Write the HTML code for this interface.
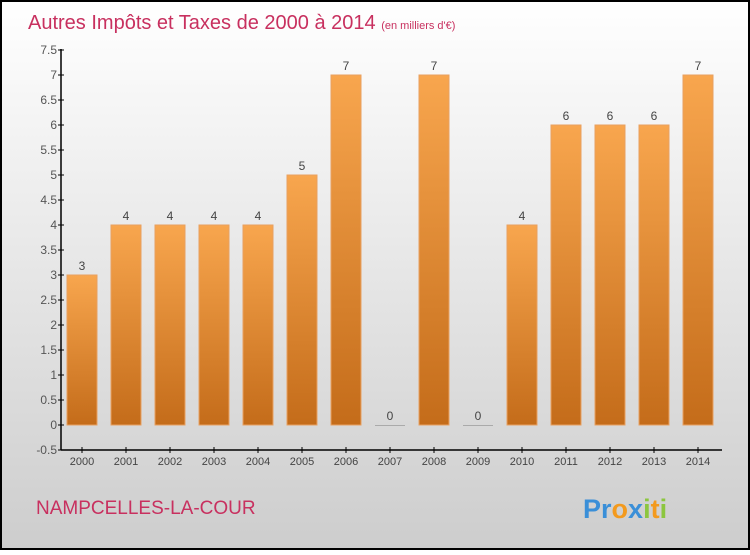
<!DOCTYPE html>
<html><head><meta charset="utf-8"><style>
body{margin:0;width:750px;height:550px;overflow:hidden}
svg text{font-family:"Liberation Sans",sans-serif}
</style></head><body>
<svg width="750" height="550" xmlns="http://www.w3.org/2000/svg">
<defs>
<linearGradient id="bg" x1="0" y1="0" x2="0" y2="1"><stop offset="0" stop-color="#ffffff"/><stop offset="1" stop-color="#cdcdcd"/></linearGradient>
<linearGradient id="bar" x1="0" y1="0" x2="0" y2="1"><stop offset="0" stop-color="#f8a64e"/><stop offset="1" stop-color="#c46c1a"/></linearGradient>
</defs>
<rect x="1" y="1" width="748" height="548" fill="url(#bg)" stroke="#000" stroke-width="2"/>
<text x="28" y="29" font-size="20" fill="#c8305f">Autres Impôts et Taxes de 2000 à 2014 <tspan font-size="11">(en milliers d'€)</tspan></text>
<g id="plot"></g>
<text x="36" y="514" font-size="19" fill="#c8305f">NAMPCELLES-LA-COUR</text>
<text x="583" y="518" font-size="27" font-weight="bold"><tspan fill="#3a8fd8">Pr</tspan><tspan fill="#f39a1e">o</tspan><tspan fill="#3a8fd8">x</tspan><tspan fill="#8cc63f">i</tspan><tspan fill="#f39a1e">t</tspan><tspan fill="#8cc63f">i</tspan></text>
</svg>
<script>
const years=["2000","2001","2002","2003","2004","2005","2006","2007","2008","2009","2010","2011","2012","2013","2014"];
const values=[3,4,4,4,4,5,7,0,7,0,4,6,6,6,7];
const ticks=[-0.5,0,0.5,1,1.5,2,2.5,3,3.5,4,4.5,5,5.5,6,6.5,7,7.5];
const NS="http://www.w3.org/2000/svg";
const g=document.getElementById('plot');
const y=v=>425-v*50;
const x=i=>82+i*44;
function el(t,a,txt){const e=document.createElementNS(NS,t);for(const k in a)e.setAttribute(k,a[k]);if(txt!=null)e.textContent=txt;g.appendChild(e);return e;}
let ax=el('line',{x1:61,y1:49,x2:61,y2:450,stroke:'#000','stroke-width':1.5});


let bx=el('line',{x1:61,y1:450,x2:722,y2:450,stroke:'#000','stroke-width':1.5});


ticks.forEach(t=>{
 let l=el('line',{x1:58,y1:y(t),x2:64,y2:y(t),stroke:'#000'});
 
 
 let tx=el('text',{x:57,y:y(t)+4,'font-size':12,fill:'#555','text-anchor':'end'},String(t));
 
 
});
years.forEach((yr,i)=>{
 const v=values[i];
 let r=el('rect',{x:x(i)-15,y:Math.min(y(v),y(0)),width:30,height:Math.max(Math.abs(y(v)-y(0)),1),fill:v?'url(#bar)':'#aaa',stroke:'#e8a060','stroke-width':v?1:0});
 
 
 let vl=el('text',{x:x(i),y:y(v)-5,'font-size':12,fill:'#444','text-anchor':'middle'},String(v));
 
 
 let tk=el('line',{x1:x(i),y1:447,x2:x(i),y2:453,stroke:'#000'});
 
 
 let xl=el('text',{x:x(i),y:465,'font-size':11,fill:'#444','text-anchor':'middle'},yr);
 
 
});
</script>
</body></html>
